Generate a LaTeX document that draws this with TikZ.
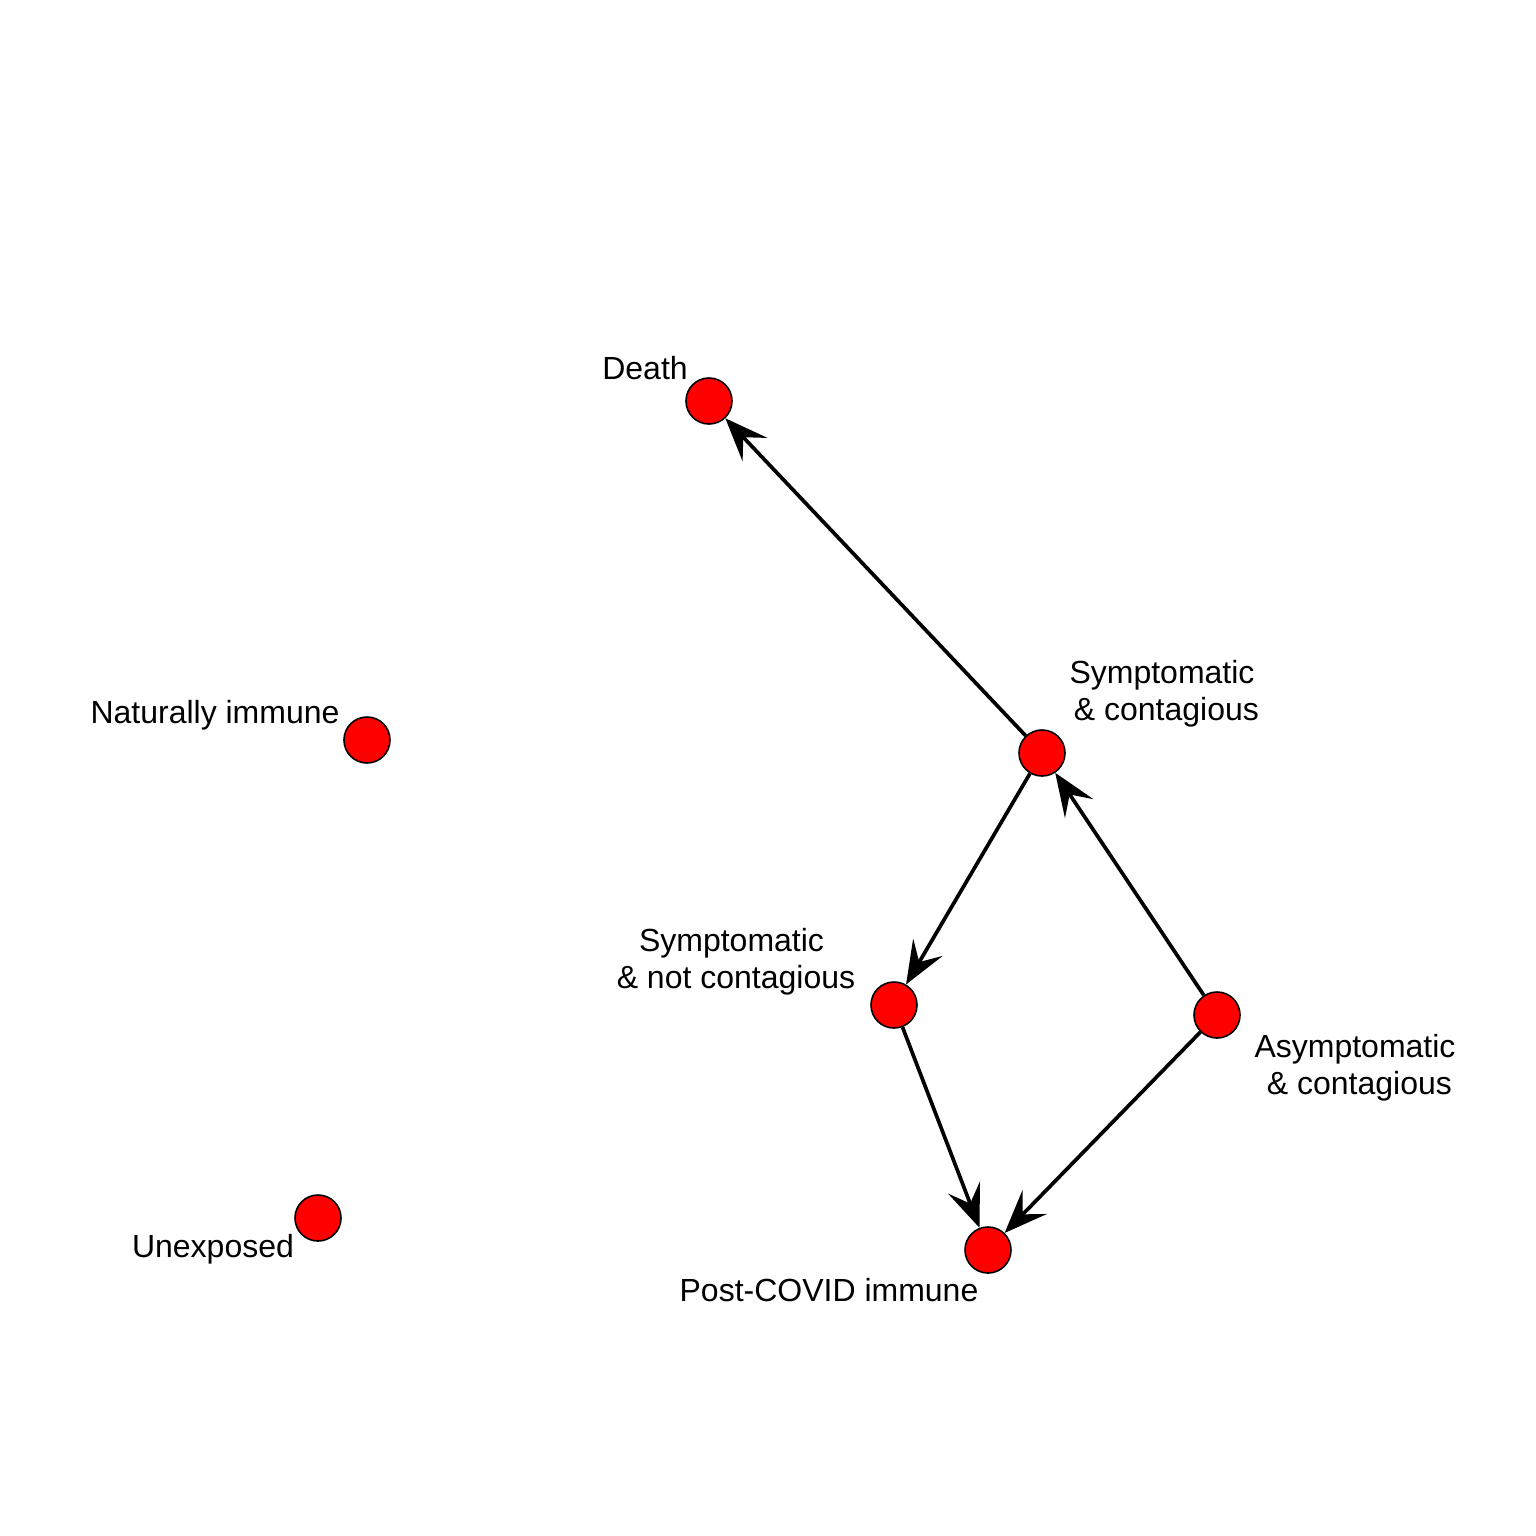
\documentclass[tikz,border=0pt]{standalone}
\usepackage{fontspec}
\setmainfont{Liberation Sans}
\usetikzlibrary{arrows.meta}
\tikzset{
  vert/.style={circle, fill=red, draw=black, line width=0.45pt, minimum size=0.46cm, inner sep=0pt},
  lab/.style={align=center, inner sep=0pt, font=\fontsize{9.1pt}{10.5pt}\selectfont},
  edge/.style={line width=1.05pt, -{Stealth[length=0.43cm,width=0.34cm,inset=0.17cm]}, shorten >=0pt}
}
\newcommand{\lsp}{\hspace*{0.278em}}
\begin{document}
\begin{tikzpicture}[x=0.01cm,y=-0.01cm]
\useasboundingbox (0,0) rectangle (1536,1536);
\node[vert] (death) at (709,401) {};
\node[vert] (natimm) at (367,740) {};
\node[vert] (unexp) at (318,1218) {};
\node[vert] (sympc) at (1042,753) {};
\node[vert] (sympn) at (894,1005) {};
\node[vert] (asym) at (1217,1015) {};
\node[vert] (post) at (988,1250) {};
\node[lab] (ldeath) at (645,368.5) {Death};
\node[lab] (lnat) at (215,715.5) {Naturally immune};
\node[lab] (lunexp) at (213,1249) {Unexposed};
\node[lab] (lsympc) at (1162,693.4) {Symptomatic\\\lsp\& contagious};
\node[lab] (lsympn) at (731.5,962) {Symptomatic\\\lsp\& not contagious};
\node[lab] (lasym) at (1355,1067.5) {Asymptomatic\\\lsp\& contagious};
\node[lab] (lpost) at (829,1290.5) {Post-COVID immune};
\draw[edge] (sympc) -- (death);
\draw[edge] (sympc) -- (sympn);
\draw[edge] (asym) -- (sympc);
\draw[edge] (sympn) -- (post);
\draw[edge] (asym) -- (post);
\end{tikzpicture}
\end{document}
